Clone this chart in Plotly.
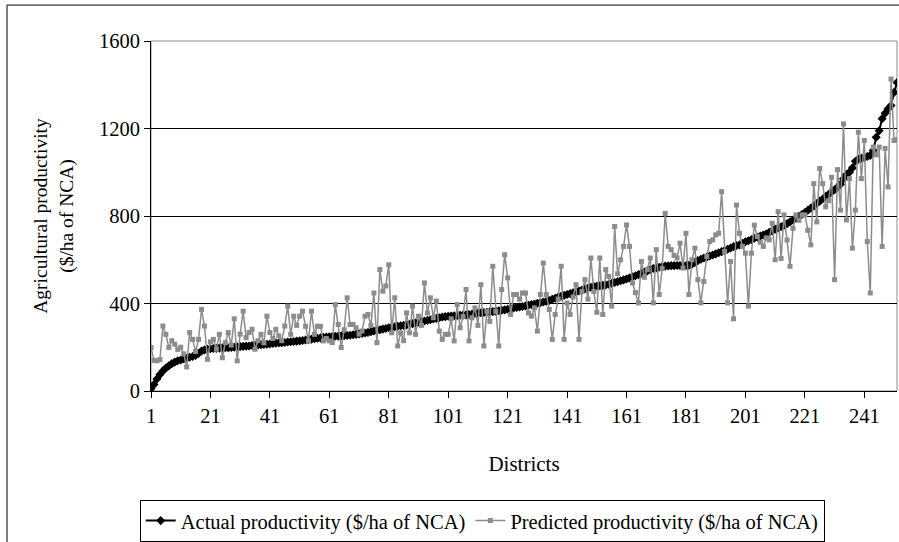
import plotly.graph_objects as go

# ---- data ----
districts = list(range(1, 253))

actual = [
    10, 30, 55, 75, 92, 105, 115, 125, 132, 138,
    142, 146, 150, 154, 158, 163, 172, 183, 188, 191,
    193, 194, 195, 196, 197, 198, 198, 199, 200, 202,
    203, 204, 205, 206, 208, 209, 210, 212, 213, 214,
    215, 217, 219, 220, 221, 222, 224, 225, 226, 228,
    229, 231, 233, 235, 237, 239, 241, 243, 245, 247,
    248, 249, 250, 251, 252, 253, 254, 255, 257, 259,
    261, 263, 265, 268, 271, 274, 277, 280, 283, 286,
    289, 292, 294, 296, 298, 300, 302, 305, 308, 311,
    314, 317, 320, 323, 326, 329, 332, 335, 338, 340,
    342, 343, 344, 345, 346, 347, 348, 350, 352, 354,
    356, 358, 359, 360, 362, 363, 365, 367, 369, 371,
    374, 377, 380, 382, 384, 386, 389, 392, 395, 398,
    401, 404, 407, 410, 414, 419, 424, 429, 433, 437,
    441, 445, 449, 453, 457, 461, 466, 470, 474, 477,
    479, 481, 483, 485, 488, 492, 496, 500, 504, 508,
    512, 517, 522, 527, 532, 538, 544, 549, 555, 560,
    563, 566, 569, 571, 572, 573, 573, 574, 574, 574,
    574, 575, 580, 588, 596, 602, 608, 612, 617, 622,
    627, 632, 637, 642, 648, 654, 660, 665, 668, 674,
    682, 687, 692, 698, 703, 708, 713, 718, 725, 732,
    740, 745, 751, 758, 765, 773, 782, 790, 799, 807,
    816, 826, 836, 846, 857, 868, 878, 889, 899, 910,
    920, 932, 945, 970, 990, 1000, 1020, 1050, 1060, 1064,
    1068, 1072, 1077, 1100, 1160, 1190, 1245, 1270, 1290, 1305,
    1365, 1410,
]

predicted = [
    199, 140, 138, 144, 297, 259, 199, 230, 214, 190,
    200, 170, 110, 267, 236, 180, 236, 373, 297, 145,
    225, 236, 191, 259, 152, 221, 267, 210, 330, 138,
    260, 365, 244, 267, 282, 191, 230, 259, 220, 342,
    267, 240, 282, 252, 230, 297, 388, 259, 342, 300,
    342, 365, 296, 229, 365, 259, 296, 296, 229, 240,
    229, 221, 395, 304, 199, 280, 426, 304, 304, 289,
    260, 274, 342, 350, 300, 448, 221, 555, 456, 480,
    577, 266, 426, 206, 266, 230, 357, 266, 388, 259,
    342, 300, 494, 357, 426, 335, 411, 274, 236, 259,
    259, 330, 229, 395, 289, 340, 464, 229, 335, 380,
    300, 486, 206, 364, 318, 570, 364, 206, 464, 623,
    517, 350, 441, 441, 420, 448, 448, 357, 342, 380,
    274, 441, 585, 441, 373, 236, 350, 420, 570, 236,
    402, 350, 430, 486, 236, 455, 509, 420, 608, 455,
    360, 608, 350, 555, 524, 388, 752, 536, 600, 661,
    759, 661, 494, 450, 403, 592, 520, 555, 608, 403,
    646, 441, 560, 812, 661, 646, 620, 608, 676, 562,
    721, 441, 600, 653, 509, 403, 501, 615, 683, 691,
    714, 721, 911, 638, 403, 592, 330, 850, 721, 661,
    630, 388, 630, 758, 706, 680, 661, 700, 691, 767,
    600, 820, 606, 805, 690, 570, 744, 805, 780, 805,
    805, 735, 668, 948, 773, 1017, 948, 842, 870, 977,
    509, 1012, 827, 1221, 782, 971, 653, 827, 1183, 971,
    1145, 683, 448, 1115, 1080, 1115, 661, 1109, 933, 1426,
    1145, 1150,
]

x_tick_vals = [1, 21, 41, 61, 81, 101, 121, 141, 161, 181, 201, 221, 241]
x_tick_text = ["1", "21", "41", "61", "81", "101", "121", "141", "161", "181", "201", "221", "241"]
y_tick_vals = [0, 400, 800, 1200, 1600]

series_names = ["Actual productivity ($/ha of NCA)", "Predicted productivity ($/ha of NCA)"]

FONT = "Liberation Serif, Times New Roman, serif"

fig = go.Figure()
fig.add_trace(go.Scatter(
    x=districts, y=actual, mode="lines+markers", name=series_names[0],
    line=dict(color="black", width=2),
    marker=dict(symbol="diamond", size=7, color="black"),
))
fig.add_trace(go.Scatter(
    x=districts, y=predicted, mode="lines+markers", name=series_names[1],
    line=dict(color="#8c8c8c", width=1.5),
    marker=dict(symbol="square", size=5, color="#8c8c8c"),
))

# plot area border (grey) and outer chart frame
fig.add_shape(type="rect", xref="paper", yref="paper", x0=0, y0=0, x1=1, y1=1,
              line=dict(color="#8c8c8c", width=1), layer="between")
fig.add_shape(type="rect", xref="paper", yref="paper", x0=-0.193, y0=-0.45, x1=1.02, y1=1.1026,
              line=dict(color="black", width=1), layer="below")

fig.update_layout(
    width=899, height=542,
    margin=dict(l=151, r=2, t=41, b=150),
    paper_bgcolor="white", plot_bgcolor="white",
    font=dict(family=FONT, size=20, color="black"),
    showlegend=True,
    legend=dict(orientation="h", x=0.444, xanchor="center", y=-0.307, yanchor="top",
                bordercolor="black", borderwidth=1, bgcolor="white",
                font=dict(family=FONT, size=20.5), itemwidth=30, tracegroupgap=0,
                entrywidth=0),
)
fig.update_xaxes(
    range=[1, 252], tickmode="array", tickvals=x_tick_vals, ticktext=x_tick_text,
    ticks="outside", ticklen=6, tickcolor="black", tickwidth=1,
    showline=True, linecolor="black", linewidth=1, showgrid=False, zeroline=False,
    tickfont=dict(family=FONT, size=20.5),
    title=dict(text="Districts", font=dict(family=FONT, size=21), standoff=30),
)
fig.update_yaxes(
    range=[0, 1600], tickmode="array", tickvals=y_tick_vals,
    ticks="outside", ticklen=6, tickcolor="black", tickwidth=1,
    showline=True, linecolor="black", linewidth=1,
    showgrid=True, gridcolor="black", gridwidth=1, zeroline=False,
    tickfont=dict(family=FONT, size=20.5),
    title=dict(text="Agricultural productivity<br>($/ha of NCA)", font=dict(family=FONT, size=19.5), standoff=20),
)

fig.write_html("out.html")
